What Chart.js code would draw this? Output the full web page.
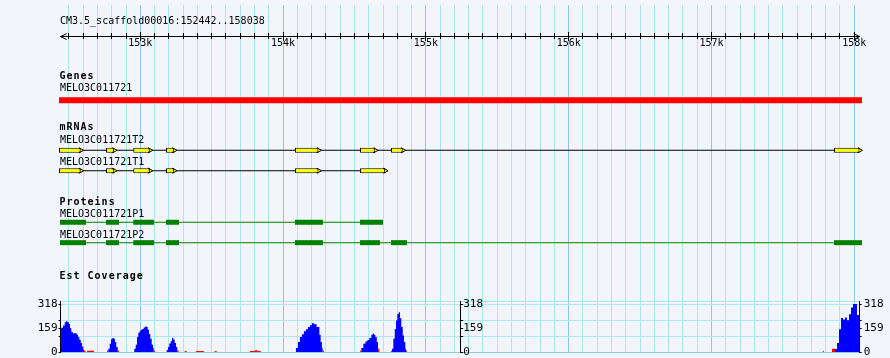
<!DOCTYPE html>
<html><head><meta charset="utf-8">
<script src="https://cdn.jsdelivr.net/npm/chart.js"></script>
<style>
html,body{margin:0;padding:0;background:#f2f5fa;}
#wrap{position:relative;width:890px;height:358px;overflow:hidden;background:#f2f5fa;}
#wrap canvas{position:absolute;left:0;top:0;}
.lbl{position:absolute;font-family:'DejaVu Sans Mono',monospace;font-size:10px;line-height:10px;color:#000;white-space:pre;}
.trk{font-weight:bold;letter-spacing:1px;}
</style></head><body>
<div id="wrap">
<canvas id="main" width="890" height="358"></canvas>
<canvas id="covA" width="890" height="358"></canvas>
<canvas id="covB" width="890" height="358"></canvas>
<div class="lbl" style="left:60px;top:16px">CM3.5_scaffold00016:152442..158038</div>
<div class="lbl trk" style="left:59.5px;top:71px">Genes</div>
<div class="lbl" style="left:60px;top:83.2px">MELO3C011721</div>
<div class="lbl trk" style="left:59.5px;top:122.2px">mRNAs</div>
<div class="lbl" style="left:60px;top:134.8px">MELO3C011721T2</div>
<div class="lbl" style="left:60px;top:156.5px">MELO3C011721T1</div>
<div class="lbl trk" style="left:59.5px;top:196.8px">Proteins</div>
<div class="lbl" style="left:60px;top:209.2px">MELO3C011721P1</div>
<div class="lbl" style="left:60px;top:229.8px">MELO3C011721P2</div>
<div class="lbl trk" style="left:59.5px;top:270.8px">Est Coverage</div>
</div>
<script>
// ---------- data ----------
const START = 152442, END = 158038;
const MID = (START + END) / 2;
const majorTicks = [153000, 154000, 155000, 156000, 157000, 158000];
const tickLabels = ['153k', '154k', '155k', '156k', '157k', '158k'];
const minorStep = 100;

const geneSpan = [152431, 158054];
const t2Exons = [[152431,152583],[152760,152817],[152951,153067],[153180,153237],[154083,154248],[154539,154645],[154756,154838],[157858,158037]];
const t1Exons = [[152431,152583],[152760,152817],[152951,153067],[153180,153237],[154083,154248],[154539,154715]];
const p1Cds = [[152438,152620],[152760,152851],[152951,153096],[153180,153271],[154083,154279],[154539,154700]];
const p2Cds = [[152438,152620],[152760,152851],[152951,153096],[153180,153271],[154083,154279],[154539,154679],[154756,154868],[157858,158054]];

const covPos = [
 152442,152459,152471,152480,152489,152499,152508,152517,152527,152555,152564,152573,152583,152592,152601,152606,
 152776,152786,152795,152804,152814,152823,152832,152842,
 152958,152968,152977,152986,152996,153005,153014,153024,153033,153042,153052,153061,153070,153080,153089,153094,
 153185,153194,153203,153213,153222,153231,153241,153250,153259,
 154090,154104,154118,154132,154146,154160,154174,154188,154202,154216,154235,154254,154263,154272,154277,
 154548,154562,154576,154590,154604,154618,154628,154637,154646,154656,154665,
 154763,154772,154782,154791,154800,154810,154819,154828,154838,154847,154856,154861,
 157865,157879,157893,157907,157921,157935,157949,157963,157977,157991,158005,158019,158033,158038];
const covBlue = [
 161,176,197,204,199,186,158,132,125,114,99,81,59,37,15,0,
 22,55,84,92,88,66,33,0,
 22,48,99,127,140,147,153,163,169,165,147,120,88,48,26,0,
 13,33,56,72,92,82,59,33,0,
 26,66,99,118,138,151,165,178,191,184,165,114,66,26,0,
 26,55,70,79,92,114,123,114,99,66,0,
 22,88,153,208,252,263,224,165,110,66,22,0,
 20,60,150,225,215,228,211,250,295,318,318,245,235,235];
const covRedPos = [152606,152616,152627,152676,152767,152776,152842,152851,153094,153103,153259,153269,
 153311,153325,153390,153446,153521,153535,153768,153805,153817,153843,154277,154286,154539,154548,
 154665,154674,154756,154763,154861,154868,157781,157788,157844,157865];
const covRed = [10,0,8,0,10,0,10,0,10,0,10,0,
 7,0,7,0,7,0,7,13,7,0,10,0,8,0,
 22,0,8,0,8,0,7,0,22,0];
const covMax = 318;
const covLabelTicks = [0, 159, 318];

// ---------- styling / layout ----------
const ROW = { gene: 98, t2: 149.5, t1: 170.5, p1: 223.5, p2: 244.5 };
const MINOR = '#aae9ef', MAJOR = '#8ec8e6', CLEAR = 'rgba(0,0,0,0)';
const PLOT_L = 60.6, PLOT_R = 859.7, W = 890;
const COV_TOP = covMax + 3 * covMax / 48;   // a few px of headroom above the 318 line
const covGrid = [0, covMax / 3, covMax / 2, 2 * covMax / 3, covMax, COV_TOP];

Chart.defaults.font.family = "'DejaVu Sans Mono', monospace";
Chart.defaults.font.size = 10;
Chart.defaults.color = '#000';

const rulerTicks = [];
for (let v = Math.ceil(START / minorStep) * minorStep; v <= END; v += minorStep) rulerTicks.push(v);
const minorTicks = rulerTicks.filter(v => !majorTicks.includes(v));
const tv = c => (c && c.tick) ? c.tick.value : null;
// keep axes from reserving layout space: the plot area is set by layout padding only
const noSpace = (w, h) => s => {
  if (w !== undefined) s.width = w;
  if (h !== undefined) s.height = h;
  s.paddingLeft = s.paddingRight = s.paddingTop = s.paddingBottom = 0;
};

const span = ex => [ex[0][0], ex[ex.length - 1][1]];
function barSet(data, color, thick, extra) {
  return Object.assign({ type: 'bar', indexAxis: 'y', data, backgroundColor: color, barThickness: thick,
    grouped: false, inflateAmount: 0, borderWidth: 0, borderSkipped: false, clip: false }, extra || {});
}
const rows = (ex, y) => ex.map(e => ({ x: e, y }));
const tips = [...t2Exons.map(e => ({ x: e[1], y: ROW.t2 })), ...t1Exons.map(e => ({ x: e[1], y: ROW.t1 }))];
const AR = 42;
const arrowSet = pts => ({ type: 'line', data: pts, borderColor: '#000', borderWidth: 1, pointRadius: 0, fill: false, clip: false, order: 0 });

new Chart(document.getElementById('main'), {
  type: 'bar',
  data: { datasets: [
    barSet([{ x: geneSpan, y: ROW.gene }], '#ff0000', 6, { order: 5 }),
    barSet([{ x: span(t2Exons), y: ROW.t2 }], '#000000', 1, { order: 5 }),
    barSet([{ x: span(t1Exons), y: ROW.t1 }], '#000000', 1, { order: 5 }),
    barSet([{ x: span(p1Cds), y: ROW.p1 }], '#008000', 1, { order: 5 }),
    barSet([{ x: span(p2Cds), y: ROW.p2 }], '#008000', 1, { order: 5 }),
    { type: 'scatter', data: tips, pointStyle: 'triangle', pointRotation: 90, pointRadius: 2.9,
      pointBackgroundColor: '#ffff00', pointBorderColor: '#000', pointBorderWidth: 1, clip: false, order: 3 },
    barSet(rows(t2Exons, ROW.t2), '#ffff00', 5, { borderWidth: 1, borderColor: '#000', order: 1 }),
    barSet(rows(t1Exons, ROW.t1), '#ffff00', 5, { borderWidth: 1, borderColor: '#000', order: 1 }),
    barSet(rows(p1Cds, ROW.p1), '#008000', 5, { order: 1 }),
    barSet(rows(p2Cds, ROW.p2), '#008000', 5, { order: 1 }),
    arrowSet([{ x: START + AR, y: 29.5 }, { x: START, y: 32.5 }, { x: START + AR, y: 35.5 }]),
    arrowSet([{ x: END - AR, y: 29.5 }, { x: END, y: 32.5 }, { x: END - AR, y: 35.5 }])
  ]},
  options: {
    responsive: false, animation: false, events: [],
    layout: { padding: { left: PLOT_L, right: W - PLOT_R, top: 0, bottom: 0 } },
    plugins: { legend: { display: false }, tooltip: { enabled: false } },
    scales: {
      x: { type: 'linear', axis: 'x', min: START, max: END, position: { y: 27.5 }, offset: false,
        afterBuildTicks: s => { s.ticks = rulerTicks.map(v => ({ value: v })); },
        afterFit: noSpace(undefined, 0),
        grid: { display: true, offset: false, drawOnChartArea: true, drawTicks: true, tickLength: 9, lineWidth: 1,
          color: c => majorTicks.includes(tv(c)) ? MAJOR : MINOR,
          tickColor: c => majorTicks.includes(tv(c)) ? '#000' : CLEAR },
        border: { display: false },
        ticks: { autoSkip: false, maxRotation: 0, minRotation: 0, padding: -3, color: '#000', font: { size: 10 },
          callback: v => { const i = majorTicks.indexOf(v); return i >= 0 ? tickLabels[i] : ''; } } },
      xMinor: { type: 'linear', axis: 'x', min: START, max: END, position: { y: 29 }, offset: false,
        afterBuildTicks: s => { s.ticks = minorTicks.map(v => ({ value: v })); },
        afterFit: noSpace(undefined, 0),
        grid: { display: true, offset: false, drawOnChartArea: false, drawTicks: true, tickLength: 6, tickColor: '#000' },
        border: { display: false }, ticks: { display: false } },
      xLine: { type: 'linear', axis: 'x', min: START, max: END, position: { y: 32 }, offset: false,
        afterFit: noSpace(undefined, 0),
        grid: { display: false, offset: false }, ticks: { display: false },
        border: { display: true, color: '#000', width: 1 } },
      y: { type: 'linear', min: 0, max: 358, reverse: true, display: false, offset: false,
        grid: { offset: false }, afterFit: noSpace(0, undefined) }
    }
  }
});

// ---------- coverage ----------
const covSets = () => [
  { type: 'line', data: covPos.map((x, i) => ({ x, y: covBlue[i] })), stepped: true, fill: 'origin',
    backgroundColor: '#0000ff', borderColor: CLEAR, borderWidth: 0, pointRadius: 0 },
  { type: 'line', data: covRedPos.map((x, i) => ({ x, y: covRed[i] })), stepped: true, fill: 'origin',
    backgroundColor: '#ff0000', borderColor: CLEAR, borderWidth: 0, pointRadius: 0 }
];
const gridColor = c => { const v = tv(c); return v === 0 ? MAJOR : (v === covMax / 2 ? CLEAR : MINOR); };
const tickColor = c => { const v = tv(c); return (v === null || v > covMax) ? CLEAR : '#000'; };
const yAxis = (extra) => Object.assign({ type: 'linear', min: 0, max: COV_TOP, offset: false,
  afterBuildTicks: s => { s.ticks = covGrid.map(v => ({ value: v })); },
  border: { display: true, color: '#000', width: 1 } }, extra);
const tickCb = v => covLabelTicks.includes(v) ? String(v) : '';
const HALF = PLOT_L + (PLOT_R - PLOT_L) / 2;

new Chart(document.getElementById('covA'), {
  type: 'line',
  data: { datasets: covSets() },
  options: {
    responsive: false, animation: false, events: [],
    layout: { padding: { left: 0, right: W - HALF, top: 301, bottom: 6 } },
    plugins: { legend: { display: false }, tooltip: { enabled: false } },
    scales: {
      x: { type: 'linear', min: START, max: MID, display: false, offset: false, afterFit: noSpace(undefined, 0) },
      y: yAxis({ position: 'left', afterFit: noSpace(PLOT_L, undefined),
        grid: { color: gridColor, tickColor, tickLength: 2, drawTicks: true },
        ticks: { autoSkip: false, padding: 1, font: { size: 11 }, color: '#000', callback: tickCb } })
    }
  }
});

new Chart(document.getElementById('covB'), {
  type: 'line',
  data: { datasets: covSets() },
  options: {
    responsive: false, animation: false, events: [],
    layout: { padding: { left: HALF, right: 0, top: 301, bottom: 6 } },
    plugins: { legend: { display: false }, tooltip: { enabled: false } },
    scales: {
      x: { type: 'linear', min: MID, max: END, display: false, offset: false, afterFit: noSpace(undefined, 0) },
      y: yAxis({ position: 'left', afterFit: noSpace(0, undefined),
        grid: { color: gridColor, tickColor, tickLength: -3, drawTicks: true },
        ticks: { mirror: true, autoSkip: false, padding: 3, font: { size: 11 }, color: '#000', callback: tickCb } }),
      y2: yAxis({ position: 'right', afterFit: noSpace(W - PLOT_R, undefined),
        grid: { drawOnChartArea: false, tickColor, tickLength: 2, drawTicks: true },
        ticks: { autoSkip: false, padding: 2, font: { size: 11 }, color: '#000', callback: tickCb } })
    }
  }
});
</script>
</body></html>
